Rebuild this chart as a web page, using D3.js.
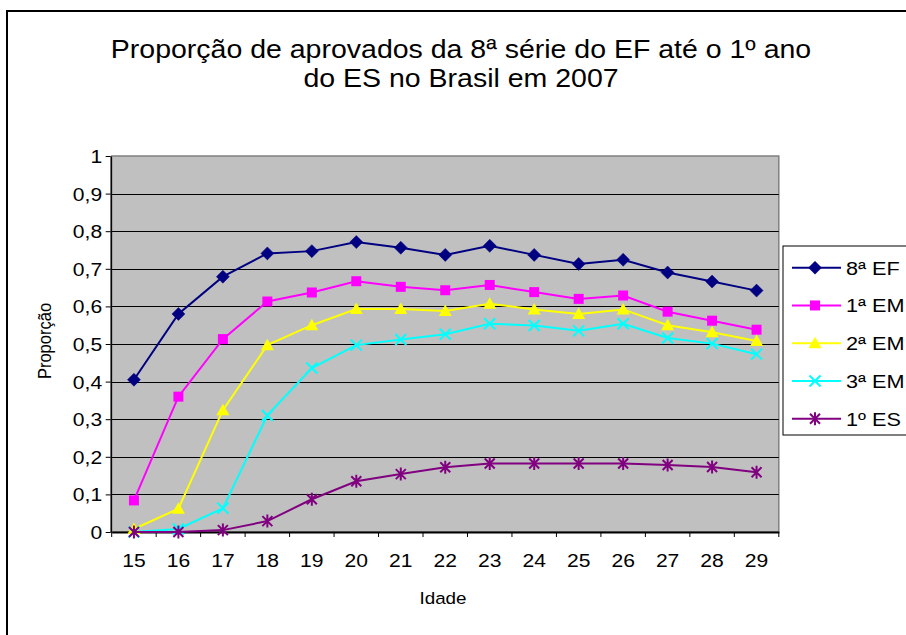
<!DOCTYPE html>
<html><head><meta charset="utf-8">
<script src="https://cdn.jsdelivr.net/npm/d3@7"></script>
<style>
html,body{margin:0;padding:0;background:#fff;overflow:hidden}
svg{display:block;font-family:"Liberation Sans",Arial,Helvetica,sans-serif}
</style></head>
<body>
<svg id="chart" width="906" height="635"></svg>
<script>
const ages = [15,16,17,18,19,20,21,22,23,24,25,26,27,28,29];
const serie8EF = [0.405,0.580,0.679,0.741,0.747,0.771,0.756,0.737,0.761,0.737,0.713,0.724,0.690,0.666,0.642];
const serie1EM = [0.084,0.360,0.513,0.613,0.637,0.667,0.652,0.643,0.657,0.638,0.620,0.629,0.586,0.562,0.538];
const serie2EM = [0.008,0.062,0.324,0.497,0.550,0.593,0.593,0.588,0.607,0.592,0.580,0.592,0.550,0.531,0.508];
const serie3EM = [0.000,0.008,0.063,0.310,0.436,0.497,0.512,0.526,0.554,0.549,0.535,0.554,0.516,0.501,0.473];
const serie1ES = [0.000,0.000,0.005,0.029,0.087,0.135,0.154,0.172,0.182,0.182,0.182,0.182,0.178,0.173,0.159];
const seriesNames = ["8ª EF","1ª EM","2ª EM","3ª EM","1º ES"];
const yTicks = [0,0.1,0.2,0.3,0.4,0.5,0.6,0.7,0.8,0.9,1];
const titleLines = ["Proporção de aprovados da 8ª série do EF até o 1º ano","do ES no Brasil em 2007"];
const xTitle = "Idade";
const yTitle = "Proporção";

const colors = ["#000080","#FF00FF","#FFFF00","#00FFFF","#800080"];
const markerKinds = ["diamond","square","triangle","x","star"];
const seriesData = [serie8EF,serie1EM,serie2EM,serie3EM,serie1ES];
const SX = 1.14; // horizontal stretch of the reference text

const svg = d3.select("#chart");
const L = 111.7, R = 778.8, T = 156, B = 532;

const x = d3.scaleBand().domain(ages).range([L,R]).padding(0);
const y = d3.scaleLinear().domain([0,1]).range([B,T]);
const cx = a => x(a) + x.bandwidth()/2;
const fmt = d3.formatLocale({decimal:",",thousands:".",grouping:[3],currency:["R$",""]}).format("~g");

// outer chart border
svg.append("rect").attr("x",7).attr("y",11).attr("width",1000).attr("height",700)
  .attr("fill","#fff").attr("stroke","#000").attr("stroke-width",2);

// title
svg.append("g").selectAll("text").data(titleLines).join("text")
  .attr("transform",(d,i)=>`translate(461,${58+i*29}) scale(${SX},1)`)
  .attr("text-anchor","middle").attr("font-size",25).attr("fill","#000").text(d=>d);

// plot area
svg.append("rect").attr("x",L).attr("y",T).attr("width",R-L).attr("height",B-T)
  .attr("fill","#C0C0C0").attr("stroke","#808080").attr("stroke-width",1.5);

// gridlines
svg.append("g").selectAll("line").data(yTicks.filter(v=>v>0 && v<1)).join("line")
  .attr("x1",L).attr("x2",R).attr("y1",d=>Math.round(y(d))+0.5).attr("y2",d=>Math.round(y(d))+0.5)
  .attr("stroke","#000").attr("stroke-width",1);

// y axis
const yAxis = svg.append("g").attr("transform",`translate(${L-1},0)`)
  .call(d3.axisLeft(y).tickValues(yTicks).tickFormat(fmt).tickSize(5).tickSizeOuter(0).tickPadding(5));
yAxis.select(".domain").attr("stroke","#000").attr("stroke-width",1.5);
yAxis.selectAll(".tick line").attr("stroke","#000");
yAxis.selectAll(".tick text").attr("font-size",18.5).attr("font-family",null).attr("fill","#000")
  .attr("dy","0.35em").attr("transform",`scale(${SX},1)`).attr("x",-7.5);

// x axis (labels at centers)
const xAxis = svg.append("g").attr("transform",`translate(0,${B})`)
  .call(d3.axisBottom(x).tickSize(0).tickPadding(22));
xAxis.select(".domain").attr("stroke","#000").attr("stroke-width",2);
xAxis.selectAll(".tick text").attr("font-size",18.5).attr("font-family",null).attr("fill","#000")
  .attr("transform",`scale(${SX},1)`);
// category boundary ticks
const bounds = ages.map(a=>x(a)).concat([x(ages[ages.length-1])+x.bandwidth()]);
svg.append("g").selectAll("line").data(bounds).join("line")
  .attr("x1",d=>d).attr("x2",d=>d).attr("y1",B).attr("y2",B+5).attr("stroke","#000").attr("stroke-width",1);

// axis titles
svg.append("text").attr("transform",`translate(443,604) scale(${SX},1)`)
  .attr("text-anchor","middle").attr("font-size",16.5).attr("fill","#000").text(xTitle);
svg.append("text").attr("transform",`translate(51,341) scale(${SX},1) rotate(-90)`)
  .attr("text-anchor","middle").attr("font-size",16.5).attr("fill","#000").text(yTitle);

// marker drawing
function marker(g, kind, color){
  if(kind==="diamond"){
    g.append("path").attr("d","M0,-6.5L6.5,0L0,6.5L-6.5,0Z").attr("fill",color).attr("stroke",color).attr("stroke-width",0.5);
  } else if(kind==="square"){
    g.append("path").attr("d","M-5,-5H5V5H-5Z").attr("fill",color);
  } else if(kind==="triangle"){
    g.append("path").attr("d","M0,-6.5L6.5,5L-6.5,5Z").attr("fill",color);
  } else if(kind==="x"){
    g.append("path").attr("d","M-5.5,-5.5L5.5,5.5M-5.5,5.5L5.5,-5.5").attr("stroke",color).attr("stroke-width",2).attr("fill","none");
  } else {
    g.append("path").attr("d","M-5,-5L5,5M-5,5L5,-5M0,-6.5V6.5").attr("stroke",color).attr("stroke-width",2).attr("fill","none");
  }
}

const line = d3.line().x((d,i)=>cx(ages[i])).y(d=>y(d));
seriesData.forEach((vals,si)=>{
  const g = svg.append("g");
  g.append("path").datum(vals).attr("d",line).attr("fill","none")
    .attr("stroke",colors[si]).attr("stroke-width",2);
  vals.forEach((v,i)=>{
    const m = g.append("g").attr("transform",`translate(${cx(ages[i])},${y(v)})`);
    marker(m, markerKinds[si], colors[si]);
  });
});

// legend
const lg = svg.append("g");
lg.append("rect").attr("x",783).attr("y",246).attr("width",200).attr("height",189)
  .attr("fill","#fff").attr("stroke","#000").attr("stroke-width",1);
seriesNames.forEach((name,i)=>{
  const ly = 267.7 + i*37.75;
  lg.append("line").attr("x1",792).attr("x2",841).attr("y1",ly).attr("y2",ly)
    .attr("stroke",colors[i]).attr("stroke-width",2);
  const m = lg.append("g").attr("transform",`translate(815,${ly})`);
  marker(m, markerKinds[i], colors[i]);
  lg.append("text").attr("transform",`translate(846,${ly+6.8}) scale(${SX},1)`)
    .attr("font-size",19).attr("fill","#000").text(name);
});
</script>
</body></html>
